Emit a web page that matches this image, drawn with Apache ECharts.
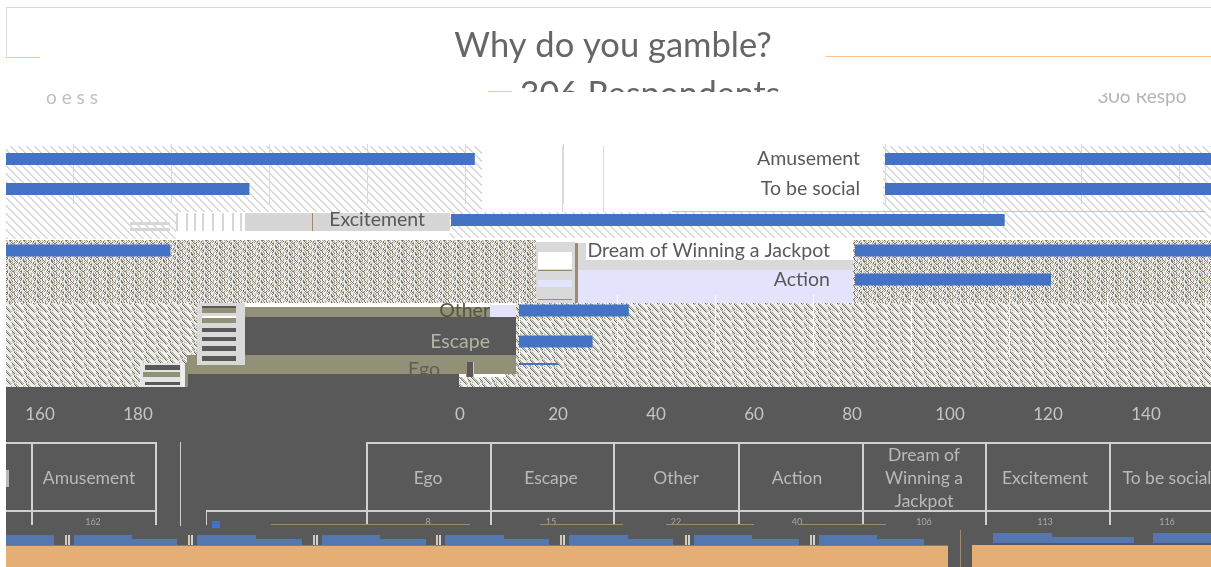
<!DOCTYPE html>
<html>
<head>
<meta charset="utf-8">
<title>Why do you gamble?</title>
<style>
html, body { margin: 0; padding: 0; background: #fff; }
#chart { width: 1211px; height: 567px; }
</style>
<script src="https://cdn.jsdelivr.net/npm/echarts@6/dist/echarts.min.js"></script>
</head>
<body>
<div id="chart"></div>
<script>
// data
const rowA = ['Amusement', 'To be social'];
const rowAValues = [162, 116];
const rowB = ['Excitement'];
const rowBValues = [113];
const rowC = ['Dream of Winning a Jackpot', 'Action'];
const rowCValues = [106, 40];
const rowD = ['Other', 'Escape'];
const rowDValues = [22.4, 15];
const rowE = ['Ego'];
const rowEValues = [8];
const tableCategories = ['Ego', 'Escape', 'Other', 'Action', 'Dream of\nWinning a\nJackpot', 'Excitement', 'To be social'];
const tableValues = [8, 15, 22, 40, 106, 113, 116];
const tickMax = 180;

const PX = 4.9; // pixels per respondent
const WRAP = 1204; // the picture repeats sideways by this much

function tile(rows, colors) {
  const c = document.createElement('canvas');
  c.width = rows[0].length;
  c.height = rows.length;
  const g = c.getContext('2d');
  rows.forEach((r, y) => {
    for (let x = 0; x < r.length; x++) {
      g.fillStyle = colors[r[x]];
      g.fillRect(x, y, 1, 1);
    }
  });
  return { image: c, repeat: 'repeat' };
}

const lightHatch = tile([
  '##......',
  '.##.....',
  '..##....',
  '...##...',
  '....##..',
  '.....##.',
  '......##',
  '#......#',
], { '#': '#d8d8d8', '.': '#ffffff' });

const brownHatch = tile([
  'bwwg.wdl.bwg.w',
  '.bwgwwlw.bgwdw',
  'gwb.wwg.wbdg.w',
  'wgwbwd.lw.bwgw',
  'dwgw.bwg.wwb.l',
  'l.wwgwbdw.gwdb',
  'bwl.wgwbw.lgw.',
], { b: '#8b7760', w: '#f4f3f0', '.': '#d8d8d2', g: '#a5a48c', d: '#74746a', l: '#dcdcf6' });

const greyHatch = tile([
  'wwd.gwwww.gw',
  '.wwd.gwwwww.',
  'w.wwd.gwwwwg',
  'dw.wwd.gwwww',
  '.dw.wwd.gwww',
  'g.dw.wwd.gww',
  'wg.wg.wwd.gw',
  'wwg.ww.wwd.g',
], { w: '#f2f2f0', '.': '#d3d3cd', g: '#a9a992', d: '#6a6a62' });

const BLUE = '#4472c4';
const DARK = '#595959';
const OLIVE = '#919177';
const BROWN = '#a08a6f';
const TABLE_LINE = '#d0d0d0';

function rect(x, y, w, h, fill, z) {
  return { type: 'rect', shape: { x: x, y: y, width: w, height: h }, style: { fill: fill }, z: z === undefined ? -1 : z, silent: true };
}
function label(x, y, text, size, color, z) {
  return {
    type: 'text', x: x, y: y, z: z === undefined ? 5 : z, silent: true,
    style: { text: text, fontFamily: 'Lato', fontSize: size, fill: color, align: 'center', verticalAlign: 'middle', lineHeight: 23 },
  };
}

const graphics = [
  // frame at the top
  rect(6, 7, 1205, 1, '#d9d9d9'),
  rect(6, 7, 1, 50, '#d9d9d9'),
  rect(6, 57, 34, 1, '#f4c398'),
  rect(826, 56, 385, 1, '#f4c398'),
  rect(488, 91, 24, 1, '#f4c398'),

  // light hatch, top rows
  rect(6, 146, 476, 66, lightHatch),
  rect(883, 146, 328, 66, lightHatch),
  rect(562, 146, 1, 66, '#d9d9d9'),
  rect(603, 146, 1, 66, '#d9d9d9'),
  rect(672, 211, 533, 1, '#e2b99a'),
  rect(6, 212, 170, 27, lightHatch),
  rect(450, 212, 761, 26, lightHatch),
  rect(130, 222, 40, 3, '#d6d6d6'),
  rect(130, 228, 40, 3, '#d6d6d6'),
  rect(245, 213, 205, 18, '#d6d6d6'),
  rect(312, 213, 1, 18, BROWN),

  // brown hatch
  rect(6, 240, 530, 63, brownHatch),
  rect(853, 240, 358, 63, brownHatch),
  rect(578, 270, 275, 33, '#e3e3fb'),
  rect(578, 243, 275, 27, '#d9d9d9'),
  rect(586, 243, 267, 17, '#ffffff'),
  rect(536, 242, 39, 61, '#d9d9d9'),
  rect(538, 252, 34, 17, '#ffffff'),
  rect(538, 280, 34, 7, '#e3e3fb'),
  rect(538, 270, 34, 1, BROWN),
  rect(538, 299, 34, 1, BROWN),
  rect(575, 243, 3, 60, BROWN),

  // grey hatch
  rect(6, 303, 191, 60, greyHatch),
  rect(6, 363, 134, 24, greyHatch),
  rect(516, 303, 695, 64, greyHatch),
  rect(505, 367, 706, 10, greyHatch),
  rect(459, 377, 752, 10, greyHatch),

  // solid blocks behind the lower labels
  rect(245, 307, 270, 10, OLIVE),
  rect(245, 317, 271, 38, DARK),
  rect(187, 355, 329, 19, OLIVE),
  rect(505, 355, 11, 12, OLIVE),
  rect(187, 374, 272, 13, DARK),
  rect(490, 305, 26, 12, '#e3e3fb'),
  rect(467, 362, 7, 15, DARK),
  rect(466, 362, 1, 15, BROWN),
  rect(473, 362, 1, 15, '#c8c8c8'),

  // stepped blocks left of the labels
  rect(197, 303, 48, 62, '#d9d9d9'),
  rect(202, 306, 34, 2, DARK),
  rect(202, 308, 34, 5, OLIVE),
  rect(202, 316, 34, 2, '#ffffff'),
  rect(202, 318, 34, 5, OLIVE),
  rect(202, 328, 34, 4, DARK),
  rect(202, 337, 34, 4, DARK),
  rect(202, 346, 34, 5, DARK),
  rect(202, 356, 34, 5, DARK),
  rect(140, 363, 42, 24, '#e4e4e4'),
  rect(145, 365, 35, 5, DARK),
  rect(143, 372, 37, 5, OLIVE),
  rect(145, 382, 35, 3, DARK),
  rect(181, 363, 4, 79, '#eeeeee'),
  rect(185, 363, 3, 88, OLIVE),

  // dark block with the axis and table
  rect(6, 387, 1205, 159, DARK),
  rect(948, 546, 24, 21, DARK),
  rect(960, 530, 1, 37, BROWN),

  // orange footer
  rect(6, 546, 942, 21, '#e4ae74'),
  rect(972, 545, 239, 22, '#e4ae74'),
  rect(6, 545, 942, 1, '#8d7a64'),
];

// vertical stripes beside the excitement label
[176, 186, 194, 202, 212, 222, 232, 240].forEach(x => {
  graphics.push(rect(x, 213, 2, 18, '#d6d6d6'));
});

// table lines
graphics.push(rect(6, 442, 150, 2, TABLE_LINE));
graphics.push(rect(366, 442, 845, 2, TABLE_LINE));
graphics.push(rect(6, 510, 150, 2, TABLE_LINE));
graphics.push(rect(206, 510, 1005, 2, TABLE_LINE));
graphics.push(rect(206, 510, 1, 15, TABLE_LINE));
graphics.push(rect(180, 442, 1, 84, TABLE_LINE));
const tableEdges = [31, 155, 366, 490, 613, 738, 862, 985, 1109];
tableEdges.forEach(x => {
  graphics.push(rect(x, 442, 2, 83, TABLE_LINE));
});

// table header and the torn value row under it
const tableCentres = [428, 551, 676, 797, 924, 1045, 1167];
tableCategories.forEach((name, i) => {
  graphics.push(label(tableCentres[i], 478, name, 17.5, '#b9b9b9'));
  graphics.push(label(tableCentres[i], 522, String(tableValues[i]), 9, '#a8a8a8'));
});
graphics.push(label(89, 478, rowA[0], 17.5, '#b9b9b9'));
graphics.push(label(93, 522, String(rowAValues[0]), 9, '#a8a8a8'));
graphics.push(rect(6, 470, 3, 17, '#b9b9b9', 5));

// legend remains
graphics.push(rect(212, 521, 8, 7, BLUE, 5));
[[271, 199], [540, 83], [666, 88], [800, 86]].forEach(s => {
  graphics.push(rect(s[0], 524, s[1], 1, BROWN, 5));
});

// blue runs above the footer
[[74, 132, 177], [197, 256, 302], [322, 380, 426], [445, 504, 549], [569, 628, 673], [694, 752, 799], [819, 877, 924]].forEach(s => {
  graphics.push(rect(s[0], 535, s[1] - s[0], 10, '#5577b0', 5));
  graphics.push(rect(s[1], 539, s[2] - s[1], 6, '#5577b0', 5));
  graphics.push(rect(s[0] - 9, 535, 2, 10, '#d8c8a8', 5));
  graphics.push(rect(s[0] - 6, 535, 2, 10, '#c8d4e4', 5));
});
graphics.push(rect(6, 535, 48, 10, '#5577b0', 5));
graphics.push(rect(993, 533, 59, 10, '#5577b0', 5));
graphics.push(rect(1052, 537, 82, 6, '#5577b0', 5));
graphics.push(rect(1153, 533, 58, 10, '#5577b0', 5));

// scraps of the subtitle
graphics.push(label(1142, 97, '306 Respo', 19, '#b5b5b5', 5));
graphics.push(label(72, 98, 'o e s s', 19, '#c0c0c0', 5));
graphics.push(rect(1060, 86, 151, 7, '#ffffff', 20));

// the subtitle is cut off under this strip
graphics.push(rect(480, 92, 330, 22, '#ffffff', 20));
// page margin, hides what runs off the left
graphics.push(rect(0, 0, 6, 567, '#ffffff', 30));

// one piece = one strip of the bar chart, placed by its zero position
const pieces = [
  { cats: rowA, vals: rowAValues, zero: 885, top: 144, h: 60, lines: true, labels: ['#595959', '#595959'], margin: 25 },
  { cats: rowA, vals: rowAValues, zero: 885 - WRAP, top: 144, h: 60, lines: true, max: tickMax },
  { cats: rowB, vals: rowBValues, zero: 451, top: 205, h: 30, labels: ['#595959'], margin: 26 },
  { cats: rowC, vals: rowCValues, zero: 855, top: 236, h: 58, labels: ['#595959', '#595959'], margin: 25 },
  { cats: rowC, vals: rowCValues, zero: 855 - WRAP, top: 236, h: 58, max: 120 },
  { cats: rowD, vals: rowDValues, zero: 519, top: 295, h: 62, labels: ['#55553f', '#b4b4a4'], margin: 29, lines: true, lineColor: '#ffffff' },
  { cats: rowE, vals: rowEValues, zero: 519, top: 349, h: 30, labels: ['#5f5f50'], margin: 79, barWidth: 2, labelDrop: 12 },
];

const grid = [];
const xAxis = [];
const yAxis = [];
const series = [];

pieces.forEach((p, i) => {
  const max = p.max || Math.ceil((1211 - p.zero) / PX / 20) * 20;
  grid.push({ left: p.zero, top: p.top, width: max * PX, height: p.h, outerBoundsMode: 'none' });
  xAxis.push({
    type: 'value', gridIndex: i, min: 0, max: max, interval: 20,
    axisLabel: { show: false }, axisLine: { show: false }, axisTick: { show: false },
    splitLine: { show: !!p.lines, lineStyle: { color: p.lineColor || '#d9d9d9', width: 1 } },
  });
  const axisLabel = {
    show: !!p.labels,
    color: (v, idx) => (p.labels ? p.labels[idx] : '#595959'),
    fontFamily: 'Lato', fontSize: 19.5, margin: p.margin || 8,
  };
  if (p.labelDrop) {
    // Ego sits a little under its bar
    axisLabel.formatter = '{low|{value}}';
    axisLabel.rich = { low: { padding: [p.labelDrop, 0, 0, 0], fontFamily: 'Lato', fontSize: 19.5, color: p.labels[0] } };
  }
  yAxis.push({
    type: 'category', gridIndex: i, inverse: true, data: p.cats,
    axisLine: { show: false }, axisTick: { show: false },
    axisLabel: axisLabel,
  });
  series.push({
    type: 'bar', xAxisIndex: i, yAxisIndex: i, data: p.vals, barWidth: p.barWidth || 12,
    itemStyle: { color: BLUE }, clip: true, silent: true,
  });
});

// the value axis printed on the dark block, repeats at the left
const tickIdx = pieces.length;
grid.push({ left: 460, top: 400, width: 140 * PX, height: 1, outerBoundsMode: 'none' });
xAxis.push({
  type: 'value', gridIndex: tickIdx, min: 0, max: 140, interval: 20, position: 'bottom',
  axisLine: { show: false }, axisTick: { show: false }, splitLine: { show: false },
  axisLabel: { color: '#c4c4c4', fontFamily: 'Lato', fontSize: 17, margin: 5 },
});
yAxis.push({ type: 'category', gridIndex: tickIdx, data: [''], show: false });
grid.push({ left: 40 - 20 * PX, top: 400, width: 40 * PX, height: 1, outerBoundsMode: 'none' });
xAxis.push({
  type: 'value', gridIndex: tickIdx + 1, min: 140, max: tickMax, interval: 20, position: 'bottom',
  axisLine: { show: false }, axisTick: { show: false }, splitLine: { show: false },
  axisLabel: { color: '#c4c4c4', fontFamily: 'Lato', fontSize: 17, margin: 5, showMinLabel: false },
});
yAxis.push({ type: 'category', gridIndex: tickIdx + 1, data: [''], show: false });

const chart = echarts.init(document.getElementById('chart'), null, { renderer: 'canvas' });
chart.setOption({
  animation: false,
  backgroundColor: '#ffffff',
  title: [{
    text: 'Why do you gamble?',
    left: 608, top: 23, textAlign: 'center',
    textStyle: { color: '#666666', fontFamily: 'Lato', fontSize: 34.5, fontWeight: 'normal' },
  }, {
    text: '306 Respondents',
    left: 645, top: 73, textAlign: 'center',
    textStyle: { color: '#666666', fontFamily: 'Lato', fontSize: 34, fontWeight: 'normal' },
  }],
  grid: grid,
  xAxis: xAxis,
  yAxis: yAxis,
  series: series,
  graphic: { elements: graphics },
});
</script>
</body>
</html>
